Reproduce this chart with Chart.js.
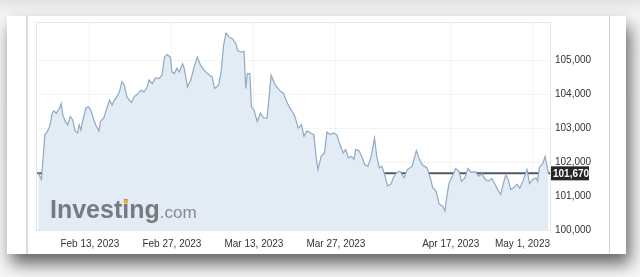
<!DOCTYPE html>
<html>
<head>
<meta charset="utf-8">
<script src="https://cdn.jsdelivr.net/npm/chart.js@4.4.1/dist/chart.umd.min.js"></script>
<style>
  body { margin: 0; width: 640px; height: 277px; overflow: hidden; position: relative;
         background: linear-gradient(#e4e4e4, #f6f6f6 16px, #f8f8f8); }
  #card { position: absolute; left: 7px; top: 16px; width: 619px; height: 238px; background: #fff;
          box-shadow: 4px 10px 16px rgba(0,0,0,0.6); }
  #leftRule { position: absolute; left: 26px; top: 16px; width: 2px; height: 238px; background: #dadada; }
  #rightRule { position: absolute; left: 609px; top: 16px; width: 1px; height: 238px; background: #d2d2d2; }
  #chart { position: absolute; left: 0; top: 0; }
</style>
</head>
<body>
<div id="card"></div>
<div id="leftRule"></div>
<div id="rightRule"></div>
<canvas id="chart" width="640" height="277"></canvas>
<script>
// trading days counted from Feb 13, 2023
const tradingDays = [
  -6.3, -5.9, -5.5, -5.2, -4.9, -4.6, -4.4, -4.1, -3.7, -3.5,
  -3.3, -3.0, -2.7, -2.4, -2.1, -1.8, -1.5, -1.3, -1.1, -0.8,
  -0.5, -0.2, 0.1, 0.4, 0.7, 1.1, 1.3, 1.7, 2.0, 2.4,
  2.7, 3.0, 3.3, 3.6, 3.9, 4.2, 4.5, 4.8, 5.1, 5.4,
  5.8, 6.2, 6.6, 7.0, 7.2, 7.6, 8.0, 8.4, 8.8, 9.1,
  9.4, 9.8, 10.0, 10.3, 10.6, 10.9, 11.3, 11.5, 11.9, 12.3,
  12.7, 13.1, 13.5, 14.1, 14.6, 14.9, 15.2, 15.7, 16.0, 16.3,
  16.6, 17.0, 17.4, 17.8, 18.0, 18.5, 18.8, 19.0, 19.2, 19.5,
  19.7, 20.0, 20.4, 20.8, 21.2, 21.6, 22.1, 22.6, 23.3, 23.6,
  24.0, 24.4, 24.8, 25.0, 25.4, 25.8, 26.1, 26.5, 26.9, 27.3,
  27.6, 27.8, 28.2, 28.6, 28.9, 29.3, 29.7, 30.1, 30.5, 30.9,
  31.2, 31.5, 31.9, 32.2, 32.4, 32.8, 33.2, 33.5, 33.9, 34.3,
  34.7, 35.0, 35.3, 35.6, 35.9, 36.3, 36.7, 37.0, 37.4, 37.8,
  38.3, 38.7, 39.3, 39.8, 40.1, 40.5, 41.1, 41.5, 41.8, 42.2,
  42.6, 43.0, 43.3, 43.5, 43.8, 44.2, 44.6, 45.0, 45.3, 45.7,
  46.1, 46.5, 47.0, 47.4, 47.8, 48.2, 48.6, 49.0, 49.4, 49.8,
  50.1, 50.4, 50.7, 51.0, 51.3, 51.7, 52.1, 52.4, 52.8, 53.3,
  53.6, 54.0, 54.4, 54.6, 54.8, 55.2, 55.5, 55.7, 55.9
];
const dxyValues = [
  101690, 101490, 102810, 102900, 103050, 103440, 103510, 103440, 103590, 103720,
  103390, 103200, 103100, 103340, 103250, 102920, 102860, 103100, 102950, 103300,
  103590, 103630, 103540, 103300, 103100, 102920, 103200, 103300, 103540, 103830,
  103680, 103830, 103930, 104070, 104370, 104270, 103930, 103830, 103760, 103930,
  104000, 104120, 104070, 104220, 104420, 104320, 104480, 104460, 104560, 105100,
  105170, 105100, 104660, 104610, 104770, 104660, 104900, 104760, 104220, 104420,
  104800, 105100, 104850, 104660, 104560, 104510, 104170, 104270, 104660, 105440,
  105810, 105680, 105630, 105490, 105290, 105240, 105260, 104170, 104610, 104610,
  103630, 103540, 103200, 103440, 103300, 103300, 104560, 104270, 104070, 104030,
  103780, 103590, 103440, 103340, 103000, 103100, 102760, 102920, 102860, 102810,
  102130, 101780, 102170, 102270, 102890, 102810, 102860, 102810, 102510, 102270,
  102370, 102130, 102170, 102080, 102370, 102340, 102130, 101930, 101880, 102170,
  102710, 102130, 101830, 101880, 101660, 101300, 101350, 101540, 101690, 101730,
  101540, 101780, 101880, 102340, 102130, 101930, 101830, 101540, 101250, 101150,
  100760, 100710, 100560, 100960, 101390, 101590, 101810, 101730, 101440, 101520,
  101810, 101690, 101720, 101590, 101660, 101490, 101440, 101520, 101350, 101150,
  101050, 101350, 101620, 101490, 101200, 101250, 101350, 101230, 101440, 101780,
  101370, 101490, 101540, 101440, 101850, 101950, 102170, 101930, 101670
];
const currentPrice = 101670;
const xTickDays = [0, 10, 20, 30, 44, 54];
const xTickLabels = ["Feb 13, 2023", "Feb 27, 2023", "Mar 13, 2023", "Mar 27, 2023", "Apr 17, 2023", "May 1, 2023"];
const yTickValues = [100000, 101000, 102000, 103000, 104000, 105000];

const X_MIN = -6.45, X_MAX = 56.1;
const FONT = "'Liberation Sans', Arial, sans-serif";

// frame, logo, x labels and the last price tag
const decorations = {
  id: "decorations",
  afterDatasetsDraw(chart) {
    const { ctx, chartArea } = chart;
    ctx.save();
    ctx.textBaseline = "alphabetic";
    ctx.textAlign = "left";
    const base = chartArea.bottom - 12;
    const left = chartArea.left + 13;
    ctx.font = "bold 25px " + FONT;
    ctx.fillStyle = "#777a7e";
    ctx.fillText("Investing", left, base);
    const w = ctx.measureText("Investing").width;
    // orange dot on the second i
    const before = ctx.measureText("Invest").width;
    const iw = ctx.measureText("i").width;
    ctx.fillStyle = "#f0a640";
    ctx.fillRect(left + before + iw / 2 - 2, base - 18.5, 4, 4);
    ctx.font = "17px " + FONT;
    ctx.fillStyle = "#86898d";
    ctx.fillText(".com", left + w, base);
    ctx.restore();
  },
  afterDraw(chart) {
    const { ctx, chartArea, scales } = chart;
    ctx.save();
    ctx.strokeStyle = "#e6e6e6";
    ctx.lineWidth = 1;
    ctx.strokeRect(chartArea.left - 0.5, chartArea.top - 0.5, chartArea.width + 1, chartArea.height + 1);

    ctx.font = "10px " + FONT;
    ctx.fillStyle = "#333";
    ctx.textBaseline = "middle";
    ctx.textAlign = "center";
    xTickDays.forEach((d, i) => {
      const w = ctx.measureText(xTickLabels[i]).width;
      let x = scales.x.getPixelForValue(d);
      if (x + w / 2 > chartArea.right) x = chartArea.right - w / 2;
      ctx.fillText(xTickLabels[i], x, chartArea.bottom + 14);
    });

    const y = scales.y.getPixelForValue(currentPrice);
    ctx.fillStyle = "#262626";
    ctx.fillRect(chartArea.right + 1, y - 7, 38, 14);
    ctx.fillStyle = "#fff";
    ctx.font = "bold 10px " + FONT;
    ctx.textAlign = "left";
    ctx.fillText(currentPrice.toLocaleString("en-US"), chartArea.right + 3, y + 0.5);
    ctx.restore();
  }
};

new Chart(document.getElementById("chart"), {
  type: "line",
  data: {
    datasets: [
      {
        data: tradingDays.map((d, i) => ({ x: d, y: dxyValues[i] })),
        borderColor: "#8eaac6",
        borderWidth: 1.2,
        backgroundColor: "#e3ebf4",
        fill: "start",
        pointRadius: 0,
        tension: 0,
      },
      {
        data: [{ x: X_MIN, y: currentPrice }, { x: X_MAX, y: currentPrice }],
        borderColor: "#515a63",
        borderWidth: 2,
        pointRadius: 0,
        fill: false,
      },
    ],
  },
  options: {
    responsive: false,
    animation: false,
    layout: { padding: { left: 37, top: 23, right: 31, bottom: 27 } },
    plugins: { legend: { display: false }, tooltip: { enabled: false } },
    scales: {
      x: {
        type: "linear",
        min: X_MIN,
        max: X_MAX,
        z: 1,
        afterBuildTicks: (s) => { s.ticks = xTickDays.map((v) => ({ value: v })); },
        afterFit: (s) => { s.height = 20; },
        ticks: { display: false },
        grid: { color: "rgba(0,0,0,0.045)", drawTicks: false },
        border: { display: false },
      },
      y: {
        position: "right",
        min: 100000,
        max: 106100,
        z: 1,
        afterBuildTicks: (s) => { s.ticks = yTickValues.map((v) => ({ value: v })); },
        afterFit: (s) => { s.width = 59; },
        ticks: {
          padding: 5,
          color: "#333",
          font: { family: FONT, size: 10 },
          callback: (v) => v.toLocaleString("en-US"),
        },
        grid: { color: "rgba(0,0,0,0.045)", drawTicks: false },
        border: { display: false },
      },
    },
  },
  plugins: [decorations],
});
</script>
</body>
</html>
